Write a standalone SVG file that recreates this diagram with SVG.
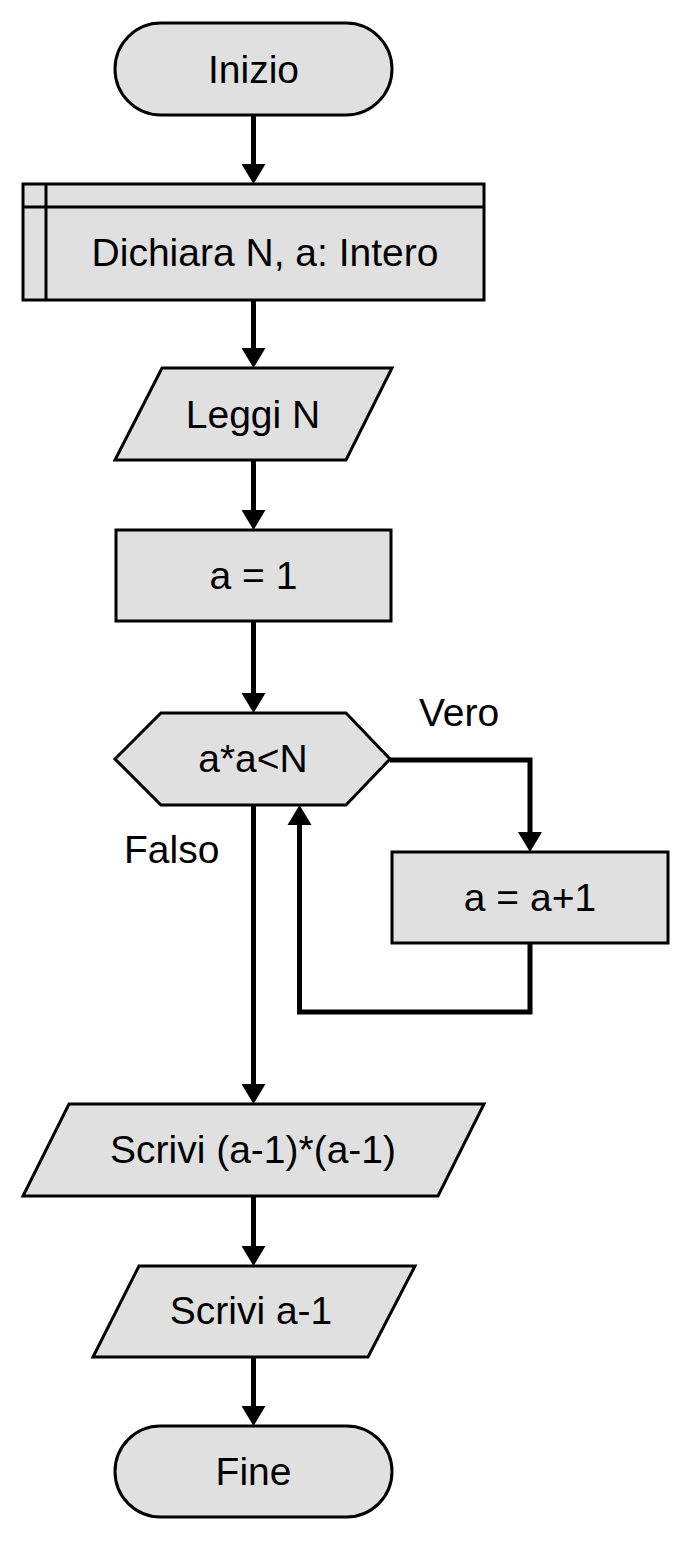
<svg xmlns="http://www.w3.org/2000/svg" width="691" height="1542" viewBox="0 0 691 1542">
  <style>
    .shape { fill: #e0e0e0; stroke: #000; stroke-width: 3; }
    .line { fill: none; stroke: #000; stroke-width: 3; }
    .label { font-family: "Liberation Sans", Arial, sans-serif; font-size: 39px; fill: #000; text-anchor: middle; }
    .tag { font-family: "Liberation Sans", Arial, sans-serif; font-size: 39px; fill: #000; }
    .conn { fill: none; stroke: #000; stroke-width: 5; marker-end: url(#arrow); }
  </style>
  <defs>
    <marker id="arrow" markerUnits="userSpaceOnUse" markerWidth="24" markerHeight="26" refX="0" refY="12" orient="auto" overflow="visible">
      <path d="M0,0 L20,12 L0,24 z" fill="#000"/>
    </marker>
  </defs>
  <rect width="691" height="1542" fill="#fff"/>

  <g id="connectors">
    <path class="conn" d="M253.5,115 V164"/>
    <path class="conn" d="M253.5,300 V348"/>
    <path class="conn" d="M253.5,460 V510"/>
    <path class="conn" d="M253.5,621 V693"/>
    <path class="conn" d="M390,760 H530 V832"/>
    <path class="conn" d="M530,943 V1012 H299.5 V825"/>
    <path class="conn" d="M253.5,805 V1084"/>
    <path class="conn" d="M253.5,1196 V1246"/>
    <path class="conn" d="M253.5,1357 V1406"/>
  </g>

  <g id="start">
    <rect class="shape" x="115" y="23" width="277" height="92" rx="46" ry="46"/>
    <text class="label" x="253.5" y="83">Inizio</text>
  </g>

  <g id="declare">
    <rect class="shape" x="23" y="184" width="461" height="116"/>
    <line class="line" x1="46" y1="184" x2="46" y2="300"/>
    <line class="line" x1="23" y1="207" x2="484" y2="207"/>
    <text class="label" x="265" y="266">Dichiara N, a: Intero</text>
  </g>

  <g id="read-n">
    <polygon class="shape" points="162,368 392,368 346,460 115,460"/>
    <text class="label" x="253" y="428">Leggi N</text>
  </g>

  <g id="init-a">
    <rect class="shape" x="116" y="530" width="275" height="91"/>
    <text class="label" x="253.5" y="589">a = 1</text>
  </g>

  <g id="test">
    <polygon class="shape" points="115,759 161,713 346,713 390,759 346,805 161,805"/>
    <text class="label" x="253" y="772">a*a&lt;N</text>
  </g>

  <g id="increment">
    <rect class="shape" x="392" y="852" width="276" height="91"/>
    <text class="label" x="530" y="911">a = a+1</text>
  </g>

  <g id="write-square">
    <polygon class="shape" points="69,1104 484,1104 438,1196 23,1196"/>
    <text class="label" x="253" y="1163">Scrivi (a-1)*(a-1)</text>
  </g>

  <g id="write-root">
    <polygon class="shape" points="139,1266 415,1266 368,1357 93,1357"/>
    <text class="label" x="251" y="1324">Scrivi a-1</text>
  </g>

  <g id="end">
    <rect class="shape" x="115" y="1426" width="277" height="91" rx="45.5" ry="45.5"/>
    <text class="label" x="253.5" y="1485">Fine</text>
  </g>

  <g id="branch-labels">
    <text class="tag" x="419" y="726">Vero</text>
    <text class="tag" x="124" y="863">Falso</text>
  </g>
</svg>
